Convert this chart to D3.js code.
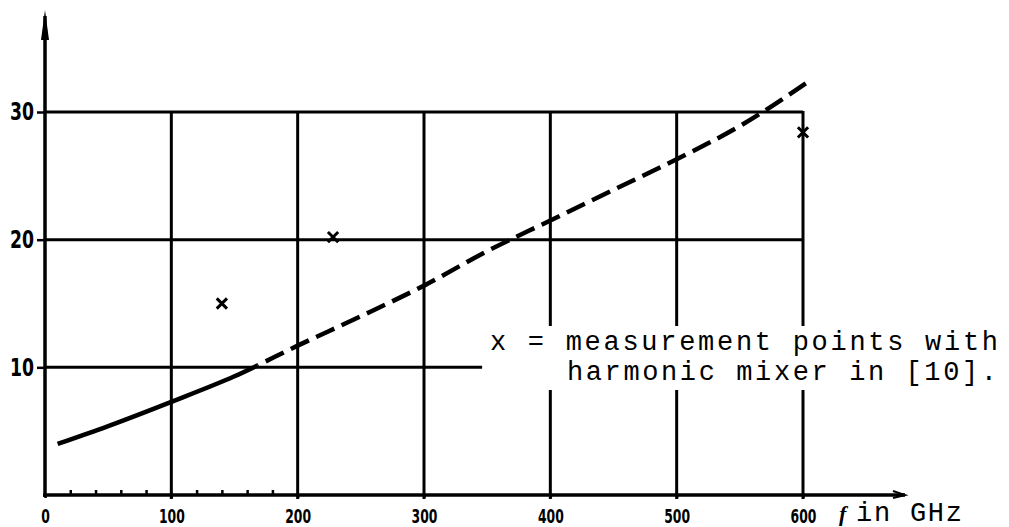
<!DOCTYPE html>
<html>
<head>
<meta charset="utf-8">
<script src="https://cdn.jsdelivr.net/npm/d3@7"></script>
<style>
body { margin: 0; background: #fff; }
svg { display: block; }
.lbl { font-family: "DejaVu Sans", sans-serif; font-weight: bold; fill: #000; }
.mono { font-family: "Liberation Mono", "Courier New", monospace; font-size: 27px; fill: #000; }
</style>
</head>
<body>
<div id="chart"></div>
<script>
// curve (GHz, value)
var curveFreq = [10, 50, 100, 150, 200, 250, 300, 350, 400, 450, 500, 550, 606];
var curveVal  = [4.0, 5.4, 7.3, 9.3, 11.7, 14.0, 16.4, 19.1, 21.5, 23.9, 26.3, 28.9, 32.5];
var dashFrom = 168;   // curve is dashed beyond this frequency

// measurement points with harmonic mixer
var measFreq = [140, 228, 600];
var measVal  = [15.0, 20.2, 28.4];

var xTicks = [0, 100, 200, 300, 400, 500, 600];
var xMinor = [20, 40, 60, 80, 120, 140, 160, 180];
var yTicks = [10, 20, 30];
var legendLines = ["x = measurement points with", "harmonic mixer in [10]."];

var margin = {top: 112, right: 206, bottom: 32, left: 45},
    width = 1009 - margin.left - margin.right,
    height = 527 - margin.top - margin.bottom;

var x = d3.scaleLinear().domain([0, 600]).range([0, width]);
var y = d3.scaleLinear().domain([0, 30]).range([height, 0]);

var svg = d3.select("#chart").append("svg")
    .attr("width", 1009)
    .attr("height", 527);

var g = svg.append("g")
    .attr("transform", "translate(" + margin.left + "," + margin.top + ")");

var defs = svg.append("defs");
defs.append("clipPath").attr("id", "solidClip")
  .append("rect").attr("x", -50).attr("y", -200).attr("width", x(dashFrom) + 50).attr("height", 800);
defs.append("clipPath").attr("id", "dashClip")
  .append("rect").attr("x", x(dashFrom)).attr("y", -200).attr("width", 600).attr("height", 800);

// horizontal grid lines (the 10 line stops at the legend)
var hLines = [{v: 30, to: 600}, {v: 20, to: 600}, {v: 10, to: 346}];
g.selectAll(".hgrid").data(hLines).enter().append("line")
    .attr("class", "hgrid")
    .attr("x1", x(0)).attr("x2", function(d) { return x(d.to); })
    .attr("y1", function(d) { return y(d.v); }).attr("y2", function(d) { return y(d.v); })
    .attr("stroke", "#000").attr("stroke-width", 3);

// vertical grid lines
g.selectAll(".vgrid").data(xTicks.slice(1)).enter().append("line")
    .attr("class", "vgrid")
    .attr("x1", function(d) { return x(d); }).attr("x2", function(d) { return x(d); })
    .attr("y1", y(30) - 1).attr("y2", y(0) + 4)
    .attr("stroke", "#000").attr("stroke-width", 3);

// legend (white box hides the grid behind the text)
g.append("rect")
    .attr("x", x(346) + 2).attr("y", 326 - margin.top)
    .attr("width", 1009).attr("height", 64)
    .attr("fill", "#fff");

g.selectAll(".legend").data(legendLines).enter().append("text")
    .attr("class", "mono")
    .attr("x", function(d, i) { return i === 0 ? 445 : 522; })
    .attr("y", function(d, i) { return 350 - margin.top + i * 30; })
    .attr("textLength", function(d, i) { return i === 0 ? 508 : 430; })
    .attr("lengthAdjust", "spacing")
    .text(function(d) { return d; });

// curve
var line = d3.line()
    .x(function(d, i) { return x(curveFreq[i]); })
    .y(function(d) { return y(d); })
    .curve(d3.curveMonotoneX);

g.append("path")
    .datum(curveVal)
    .attr("d", line)
    .attr("fill", "none").attr("stroke", "#000").attr("stroke-width", 4.5)
    .attr("clip-path", "url(#solidClip)");

g.append("path")
    .datum(curveVal)
    .attr("d", line)
    .attr("fill", "none").attr("stroke", "#000").attr("stroke-width", 4.5)
    .attr("stroke-dasharray", "20,8")
    .attr("clip-path", "url(#dashClip)");

// measurement points
g.selectAll(".meas").data(measVal).enter().append("path")
    .attr("class", "meas")
    .attr("transform", function(d, i) { return "translate(" + x(measFreq[i]) + "," + y(d) + ")"; })
    .attr("d", d3.symbol(d3.symbolTimes, 70))
    .attr("fill", "none").attr("stroke", "#000").attr("stroke-width", 3);

// axes
var yAxis = g.append("g")
    .call(d3.axisLeft(y).tickValues(yTicks).tickSize(8).tickPadding(3));
yAxis.select(".domain").remove();
yAxis.selectAll("line").attr("stroke-width", 2.5);
yAxis.selectAll("text")
    .attr("class", "lbl")
    .style("font-size", "24px")
    .attr("textLength", function(d) { return String(d).length * 12; })
    .attr("lengthAdjust", "spacingAndGlyphs");

var xAxis = g.append("g")
    .attr("transform", "translate(0," + height + ")")
    .call(d3.axisBottom(x).tickValues(xTicks).tickSize(3).tickPadding(11));
xAxis.select(".domain").remove();
xAxis.selectAll("line").attr("stroke-width", 2.5);
xAxis.selectAll("text")
    .attr("class", "lbl")
    .style("font-size", "20px")
    .attr("textLength", function(d) { return String(d).length * 8.6; })
    .attr("lengthAdjust", "spacingAndGlyphs");

var xMinorAxis = g.append("g")
    .attr("transform", "translate(0," + height + ")")
    .call(d3.axisBottom(x).tickValues(xMinor).tickSize(-5).tickFormat(""));
xMinorAxis.select(".domain").remove();
xMinorAxis.selectAll("line").attr("stroke-width", 2.5);

// axis lines with arrows
g.append("line")
    .attr("x1", x(0)).attr("x2", x(0))
    .attr("y1", y(0) + 2).attr("y2", -96)
    .attr("stroke", "#000").attr("stroke-width", 3.5);
g.append("path")
    .attr("d", "M" + x(0) + ",-102L" + (x(0) - 4) + ",-72L" + (x(0) + 4) + ",-72Z")
    .attr("fill", "#000");

var xEnd = 860;
g.append("line")
    .attr("x1", x(0) - 2).attr("x2", xEnd)
    .attr("y1", y(0)).attr("y2", y(0))
    .attr("stroke", "#000").attr("stroke-width", 3.5);
g.append("path")
    .attr("d", "M" + (xEnd - 12) + "," + (height - 4) + "L" + xEnd + "," + height + "L" + (xEnd - 12) + "," + (height + 3))
    .attr("fill", "none").attr("stroke", "#000").attr("stroke-width", 2);

// axis unit
g.append("text")
    .attr("x", 794).attr("y", height + 26)
    .style("font-family", "Liberation Serif, serif").style("font-style", "italic")
    .style("font-weight", "bold").style("font-size", "22px")
    .text("f");
g.append("text")
    .attr("class", "mono")
    .attr("x", 811).attr("y", height + 26)
    .attr("textLength", 106).attr("lengthAdjust", "spacing")
    .text("in GHz");
</script>
</body>
</html>
